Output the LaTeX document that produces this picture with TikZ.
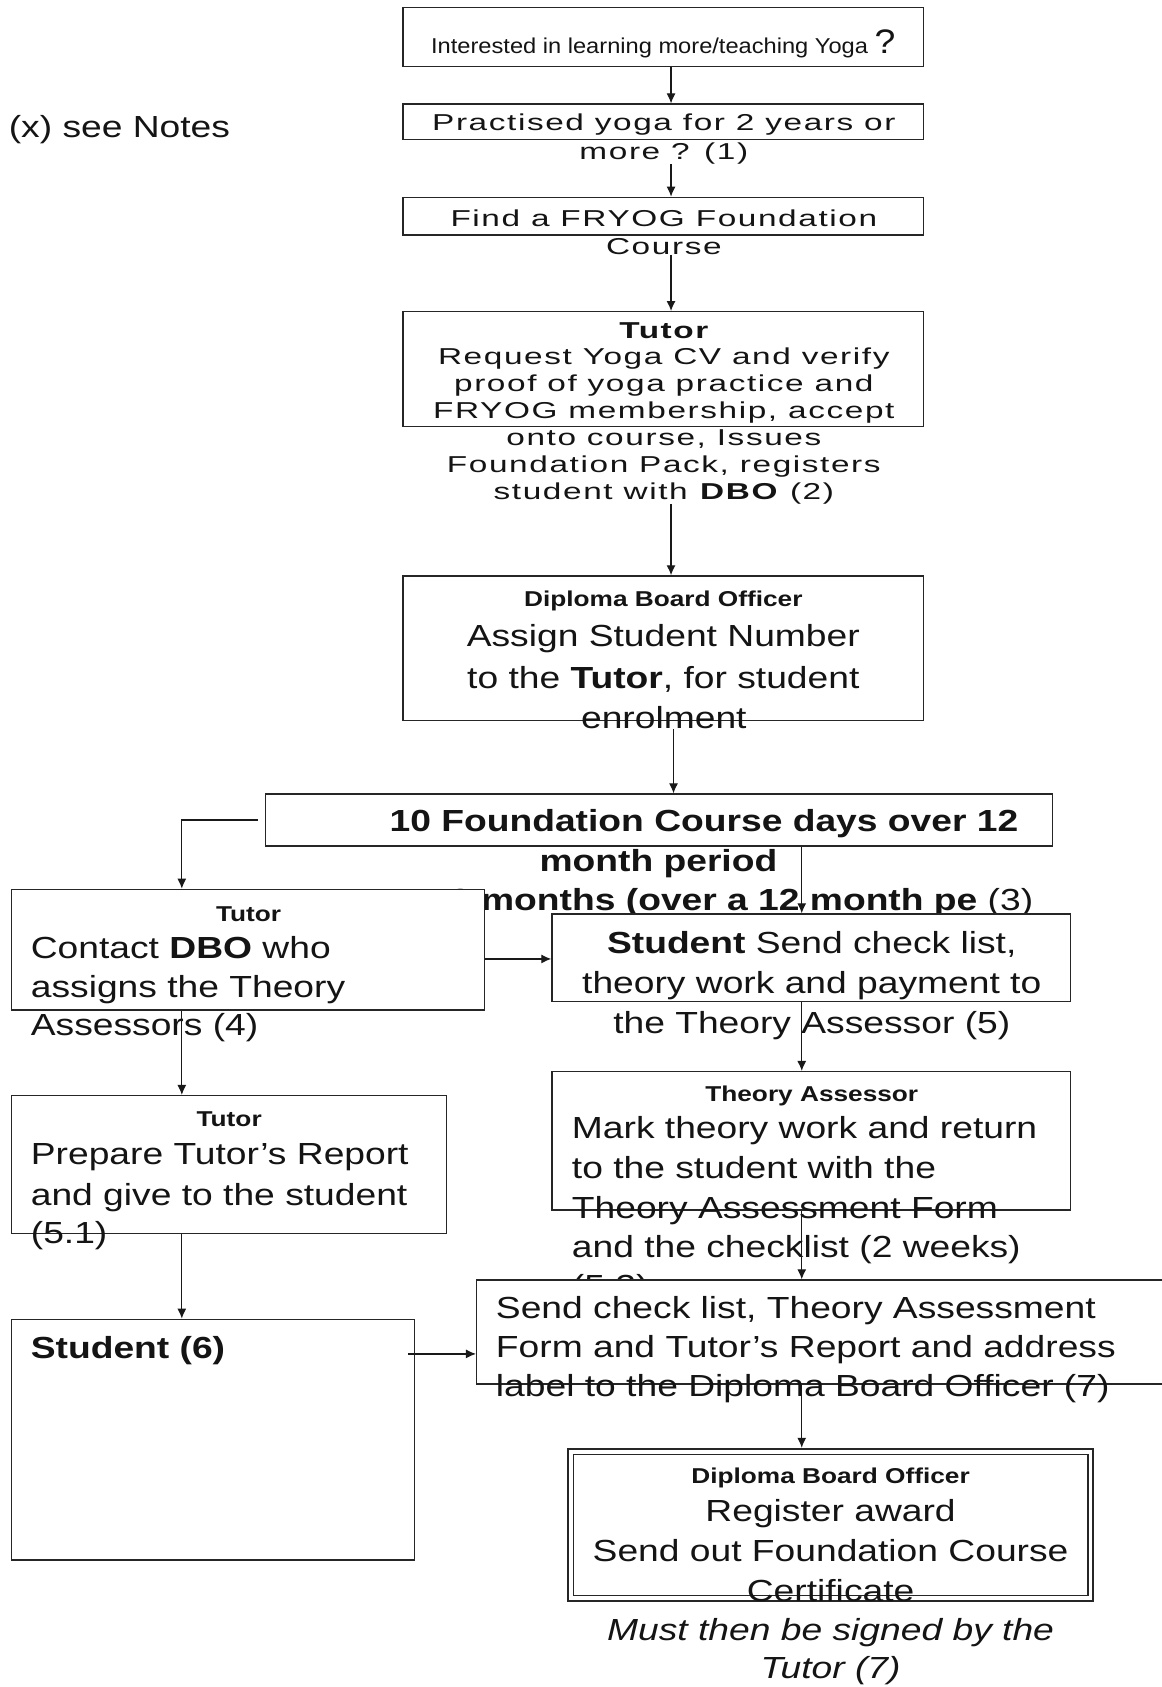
\documentclass[tikz,border=0pt]{standalone}
\usepackage{fontspec}
\setmainfont{Liberation Sans}[FakeStretch=1.22]
\newfontfamily\spfamily{Liberation Sans}[FakeStretch=1.45, LetterSpace=7]
\newfontfamily\plainfamily{Liberation Sans}[FakeStretch=1.1]
\usetikzlibrary{arrows.meta,fit,calc}
\newcommand\fmain{\fontsize{30.5}{38}\selectfont}
\newcommand\fhead{\fontsize{21.5}{26}\selectfont\bfseries}
\newcommand\fsp{\spfamily\fontsize{23}{27}\selectfont}
\newcommand\fsmall{\plainfamily\fontsize{21.5}{25}\selectfont}
\begin{document}
\begin{tikzpicture}[x=1.07593pt,y=-1.07593pt,
  box/.style={draw=black!85, line width=1.3pt, fill=white, inner sep=0pt},
  ln/.style={inner sep=0pt, anchor=base, text=black!92},
  lnw/.style={inner sep=0pt, anchor=base west, text=black!92},
  tmain/.style={font=\fmain},
  thead/.style={font=\fhead},
  tsp/.style={font=\fsp},
  tsmall/.style={font=\fsmall},
  tital/.style={font=\fmain\itshape},
  arr/.style={draw=black!90, line width=1.2pt, -{Latex[length=10pt,width=9pt]}}]
\useasboundingbox (0,0) rectangle (1080,1568);
\fill[white] (0,0) rectangle (1080,1568);
\clip (0,0) rectangle (1080,1568);
% x positions of connectors
\coordinate (xa) at (623.7,0);
\coordinate (xb) at (626,0);
\coordinate (xc) at (745.2,0);
\coordinate (xd) at (169,0);
\coordinate (ya) at (0,891.3);
\coordinate (yb) at (0,1258.4);

\node[lnw, tmain] (notes) at (8,127.5) {(x) see Notes};

% box 1
\node[box, fit={(374.7,6.8) (858.4,62)}] (b1) {};
\node[ln, tsmall] (t1) at (616.5,49.6) {Interested in learning more/teaching Yoga {\fontsize{34}{34}\selectfont ?}};
% box 2
\node[box, fit={(374.7,96.7) (858.4,129.5)}] (b2) {};
\node[ln, tsp] (t2a) at (617,121.5) {Practised yoga for 2 years or};
\node[ln, tsp] (t2b) at (617,148) {more ? (1)};
% box 3
\node[box, fit={(374.7,183.4) (858.4,218.4)}] (b3) {};
\node[ln, tsp] (t3a) at (617,210.7) {Find a FRYOG Foundation};
\node[ln, tsp] (t3b) at (617,236.4) {Course};
% box 4
\node[box, fit={(374.7,289.7) (858.4,396.5)}] (b4) {};
\node[ln, tsp] (t4a) at (617,314.5) {\bfseries Tutor};
\node[ln, tsp] (t4b) at (617,339.2) {Request Yoga CV and verify};
\node[ln, tsp] (t4c) at (617,364) {proof of yoga practice and};
\node[ln, tsp] (t4d) at (617,388.8) {FRYOG membership, accept};
\node[ln, tsp] (t4e) at (617,414.2) {onto course, Issues};
\node[ln, tsp] (t4f) at (617,439.3) {Foundation Pack, registers};
\node[ln, tsp] (t4g) at (617,464) {student with \textbf{DBO} (2)};
% box 5 DBO
\node[box, fit={(374.7,535.3) (858.4,669.8)}] (b5) {};
\node[ln, thead] (t5a) at (616.5,563.9) {Diploma Board Officer};
\node[ln, tmain] (t5b) at (616.5,601) {Assign Student Number};
\node[ln, tmain] (t5c) at (616.5,639.8) {to the \textbf{Tutor}, for student};
\node[ln, tmain] (t5d) at (617,677) {enrolment};
% box 6 10 days
\node[box, fit={(247,738) (978.5,786.3)}] (b6) {};
\node[lnw, tmain] (t6a) at (362,773) {\bfseries 10 Foundation Course days over 12};
\node[ln, tmain] (t6b) at (612,810.2) {\bfseries month period};
\node[lnw, tmain] (t6c) at (399,845.8) {\textbf{12 months (over a 12 month pe} (3)};
% box 7 tutor contact
\node[box, fit={(10.7,826.6) (450,938.7)}] (b7) {};
\node[ln, thead] (t7a) at (231,856.6) {Tutor};
\node[lnw, tmain] (t7b) at (28.5,891) {Contact \textbf{DBO} who};
\node[lnw, tmain] (t7c) at (28.5,927.5) {assigns the Theory};
\node[lnw, tmain] (t7d) at (28.5,962) {Assessors (4)};
% box 8 student send
\node[box, fit={(513,849.5) (995.1,931)}] (b8) {};
\node[ln, tmain] (t8a) at (754.5,886) {\textbf{Student} Send check list,};
\node[ln, tmain] (t8b) at (754.5,923.2) {theory work and payment to};
\node[ln, tmain] (t8c) at (754.5,960.4) {the Theory Assessor (5)};
% box 9 theory assessor
\node[box, fit={(513,996) (995.1,1124.6)}] (b9) {};
\node[ln, thead] (t9a) at (754.5,1023.9) {Theory Assessor};
\node[lnw, tmain] (t9b) at (531.4,1058) {Mark theory work and return};
\node[lnw, tmain] (t9c) at (531.4,1095.2) {to the student with the};
\node[lnw, tmain] (t9d) at (531.4,1132.4) {Theory Assessment Form};
\node[lnw, tmain] (t9e) at (531.4,1168.5) {and the checklist (2 weeks)};
\node[lnw, tmain] (t9f) at (531.4,1205) {(5.2)};
% box 10 tutor report
\node[box, fit={(10.7,1018.3) (415,1146.3)}] (b10) {};
\node[ln, thead] (t10a) at (213,1047.2) {Tutor};
\node[lnw, tmain] (t10b) at (28.5,1082.8) {Prepare Tutor’s Report};
\node[lnw, tmain] (t10c) at (28.5,1120) {and give to the student};
\node[lnw, tmain] (t10d) at (28.5,1156) {(5.1)};
% box 11 student 6
\node[box, fit={(10.7,1226.2) (385.2,1450)}] (b11) {};
\node[lnw, tmain] (t11) at (28.5,1262.5) {\bfseries Student (6)};
% box 12 send to DBO
\node[box, fit={(443,1189.7) (1100,1286.3)}] (b12) {};
\node[lnw, tmain] (t12a) at (460.8,1225.3) {Send check list, Theory Assessment};
\node[lnw, tmain] (t12b) at (460.8,1261.5) {Form and Tutor’s Report and address};
\node[lnw, tmain] (t12c) at (460.8,1297.8) {label to the Diploma Board Officer (7)};
% box 13 DBO award (double frame)
\node[box, line width=2.2pt, fit={(528.2,1346.7) (1016.2,1487.7)}] (b13) {};
\node[draw=black!85, line width=1.2pt, inner sep=0pt, fit={(533.2,1351.7) (1011.2,1482.7)}] (b13i) {};
\node[ln, thead] (t13a) at (772,1378.6) {Diploma Board Officer};
\node[ln, tmain] (t13b) at (772,1414.3) {Register award};
\node[ln, tmain] (t13c) at (772,1451.5) {Send out Foundation Course};
\node[ln, tmain] (t13d) at (772,1488.6) {Certificate};
\node[ln, tital] (t14a) at (772,1524.3) {Must then be signed by the};
\node[ln, tital] (t14b) at (772,1560) {Tutor (7)};

% connectors
\draw[arr] (b1.south -| xa) -- (b2.north -| xa);
\draw[arr] (t2b.south -| xa) -- (b3.north -| xa);
\draw[arr] (t3b.south -| xa) -- (b4.north -| xa);
\draw[arr] (t4g.south -| xa) -- (b5.north -| xa);
\draw[arr] (t5d.south -| xb) -- (b6.north -| xb);
\draw[arr, shorten <=7.5pt] (b6.west) -| (b7.north -| xd);
\draw[arr] (b6.south -| xc) -- (b8.north -| xc);
\draw[arr] (b7.east |- ya) -- (b8.west |- ya);
\draw[arr] (b8.south -| xc) -- (b9.north -| xc);
\draw[arr] (b9.south -| xc) -- (b12.north -| xc);
\draw[arr] (b7.south -| xd) -- (b10.north -| xd);
\draw[arr] (b10.south -| xd) -- (b11.north -| xd);
\draw[arr] ($(b11.east |- yb)+(-6.4,0)$) -- (b12.west |- yb);
\draw[arr] (b12.south -| xc) -- (b13.north -| xc);
\end{tikzpicture}
\end{document}
